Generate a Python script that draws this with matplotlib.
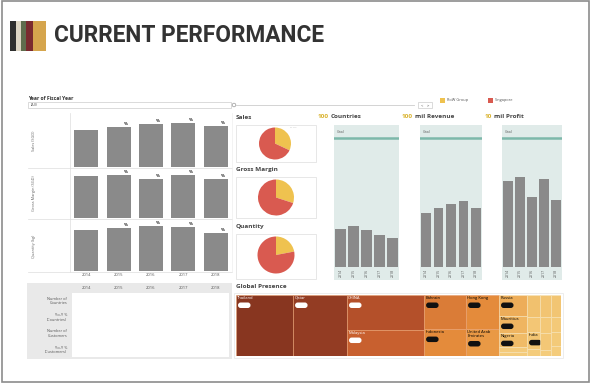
import matplotlib
matplotlib.use('Agg')
import matplotlib.pyplot as plt
from matplotlib.patches import Rectangle, FancyBboxPatch, Circle
import matplotlib.colors as mcolors
import numpy as np

W, H = 600, 386

# ---------------- data ----------------
years = ['2014', '2015', '2016', '2017', '2018']
sales = [37, 40, 43, 44, 41]
gross_margin = [42, 43, 39, 43, 39]
quantity = [41, 43, 45, 44, 38]
row_titles = ['Sales (SGD)', 'Gross Margin (SGD)', 'Quantity (kg)']
change_marks = ['', '%', '%', '%', '%']

pie_groups = ['RoW Group', 'Singapore']
pie_sales = [32, 68]
pie_margin = [30, 70]
pie_quantity = [22, 78]
pie_titles = ['Sales', 'Gross Margin', 'Quantity']

countries = [29.7, 31.8, 28.4, 24.8, 22.5]
revenue = [42.1, 45.7, 48.8, 50.9, 46.0]
profit = [6.7, 7.0, 5.45, 6.85, 5.2]
kpi_goals = [100, 100, 10]
kpi_numbers = ['100', '100', '10']
kpi_titles = ['Countries', 'mil Revenue', 'mil Profit']

table_rows = ['Number of\nCountries', 'Y-o-Y %\n(Countries)',
              'Number of\nCustomers', 'Y-o-Y %\n(Customers)']

# treemap: columns of (country, customers)
tm_columns = [
    [('Thailand', 348)],
    [('Qatar', 329)],
    [('CHINA', 270), ('Malaysia', 200)],
    [('Bahrain', 143), ('Indonesia', 113)],
    [('Hong Kong', 112), ('United Arab\nEmirates', 89)],
    [('Russia', 59), ('Mauritius', 48), ('Nigeria', 39), ('', 13), ('', 12)],
    [('', 29), ('', 20), ('India', 22), ('', 9)],
    [('', 24), ('', 17), ('', 18), ('', 7)],
    [('', 22), ('', 15), ('', 14), ('', 10)],
]

# ---------------- styling ----------------
GRAY_BAR = '#8a8a8a'
YEL = '#efc24f'
RED = '#d95a50'
TEAL_BG = '#e0ebe9'
GOAL = '#7db8aa'
TXT = '#444444'
plt.rcParams['font.family'] = ['Open Sans', 'DejaVu Sans']

fig = plt.figure(figsize=(6, 3.86), dpi=100)
fig.patch.set_facecolor('white')
renderer = fig.canvas.get_renderer()


def px_axes(x0, y0, x1, y1, **kw):
    return fig.add_axes([x0 / W, 1 - y1 / H, (x1 - x0) / W, (y1 - y0) / H], **kw)


bg = px_axes(0, 0, W, H)
bg.set_xlim(0, W)
bg.set_ylim(H, 0)
bg.axis('off')

# slide frame
bg.add_patch(Rectangle((2, 1), 587, 381, fill=False, ec='#8c8c8c', lw=1.2))

# title icon stripes
for x0, x1, c in [(10, 16, '#2e2e2e'), (16, 21, '#ddd5c4'), (21, 26, '#5f6d4d'),
                  (26, 33, '#7a2b2f'), (33, 46, '#d5a54d')]:
    bg.add_patch(Rectangle((x0, 21), x1 - x0, 30, color=c, lw=0))
bg.text(54, 36, 'CURRENT PERFORMANCE', fontsize=16.3, fontweight='bold',
        family=['Roboto', 'DejaVu Sans'], color='#333333', va='center', ha='left')

# filter controls
bg.text(28, 99, 'Year of Fiscal Year', fontsize=3.6, fontweight='bold', color='#333', va='center')
bg.add_patch(Rectangle((28, 102), 203, 6, fill=False, ec='#cccccc', lw=0.5))
bg.text(31, 105, '(All)', fontsize=2.8, color='#555', va='center')
bg.plot([236, 414], [105, 105], color='#cccccc', lw=0.6)
bg.add_patch(Circle((234, 105), 1.8, fill=True, fc='white', ec='#999', lw=0.5))
bg.add_patch(Rectangle((418, 102), 14, 6, fill=False, ec='#cccccc', lw=0.5))
bg.text(422, 105, '<', fontsize=3, color='#555', va='center', ha='center')
bg.text(428, 105, '>', fontsize=3, color='#333', va='center', ha='center')

# legend
for x, c, lab in [(440, YEL, pie_groups[0]), (488, RED, pie_groups[1])]:
    bg.add_patch(Rectangle((x, 97.5), 5, 5, color=c, lw=0))
    bg.text(x + 7, 100, lab, fontsize=2.8, color='#555', va='center')

# ---------------- left bar panel ----------------
bar_rows = [(115, 167, sales, 52), (168, 218, gross_margin, 50), (221, 271, quantity, 50)]
for (y0, y1, vals, top), title in zip(bar_rows, row_titles):
    ax = px_axes(70, y0, 232, y1)
    x = np.arange(len(years))
    ax.bar(x, vals, width=0.74, color=GRAY_BAR)
    for xi, v, m in zip(x, vals, change_marks):
        if m:
            ax.text(xi + 0.22, v + top * 0.02, m, fontsize=3.2, fontweight='bold',
                    color='#222', ha='center', va='bottom')
    ax.set_xlim(-0.5, len(years) - 0.5)
    ax.set_ylim(0, top)
    ax.axis('off')
    bg.text(34, (y0 + y1) / 2, title, fontsize=2.8, rotation=90, color='#666',
            ha='center', va='center')
    bg.plot([28, 232], [y1 + 0.5, y1 + 0.5], color='#dddddd', lw=0.5)
bg.plot([70, 70], [113, 272], color='#dddddd', lw=0.5)
bg.plot([232, 232], [113, 272], color='#eeeeee', lw=0.5)
slot = (232 - 70) / len(years)
for i, yr in enumerate(years):
    bg.text(70 + slot * (i + 0.5), 275.5, yr, fontsize=3, color='#555', ha='center', va='center')

# ---------------- table ----------------
bg.add_patch(Rectangle((27, 283), 205, 76, color='#e9e9e9', lw=0))
bg.add_patch(Rectangle((72, 293), 157, 64, color='white', lw=0))
for i, yr in enumerate(years):
    bg.text(70 + slot * (i + 0.5), 288, yr, fontsize=3, color='#555', ha='center', va='center')
for i, lab in enumerate(table_rows):
    bg.text(67, 301 + i * 16.3, lab, fontsize=2.8, color='#555', ha='right', va='center',
            linespacing=1.2)

# ---------------- pies ----------------
pie_boxes = [(125, 162, 275, 143.5, 16, pie_sales),
             (177, 218, 276, 197.5, 18, pie_margin),
             (234, 279, 276, 255, 18.5, pie_quantity)]
for (by0, by1, cx, cy, r, vals), title in zip(pie_boxes, pie_titles):
    bg.add_patch(Rectangle((236, by0), 80, by1 - by0, fill=False, ec='#dddddd', lw=0.5))
    bg.text(236, by0 - 7.5, title, fontsize=4.6, fontweight='bold', color=TXT, va='center')
    pa = px_axes(cx - r, cy - r, cx + r, cy + r)
    pa.pie(vals, colors=[YEL, RED], startangle=90, counterclock=False,
           wedgeprops=dict(lw=0))
    pa.set_xlim(-1, 1)
    pa.set_ylim(-1, 1)
bg.text(290, 127.5, '-- ---', fontsize=2.5, color='#999', va='center')

# ---------------- KPI panels ----------------
kpi_panels = [(334, 399, countries), (420, 482, revenue), (502, 562, profit)]
kpi_title_x = [318, 402, 485]
for (x0, x1, vals), goal, num, title, tx in zip(kpi_panels, kpi_goals, kpi_numbers,
                                                kpi_titles, kpi_title_x):
    bg.add_patch(Rectangle((x0, 125), x1 - x0, 155, color=TEAL_BG, lw=0))
    ax = px_axes(x0, 125, x1, 267)
    ax.patch.set_alpha(0)
    x = np.arange(len(years))
    ax.bar(x, vals, width=0.77, color=GRAY_BAR)
    ax.axhline(goal, color=GOAL, lw=1.8)
    ax.text(-0.3, goal * 1.03, 'Goal', fontsize=2.5, color='#555', va='bottom')
    ax.set_xlim(-0.5, len(years) - 0.5)
    ax.set_ylim(0, goal * 142 / 129)
    ax.set_xticks(x)
    ax.set_xticklabels(years, rotation=90, fontsize=2.5, color='#555')
    ax.tick_params(length=0, pad=1.5)
    ax.set_yticks([])
    for s in ax.spines.values():
        s.set_visible(False)
    t = bg.text(tx, 117, num, fontsize=4.6, fontweight='bold', color='#d9b22c', va='center')
    bb = t.get_window_extent(renderer=renderer)
    end_x = bb.x1 * W / (fig.get_figwidth() * fig.dpi)
    bg.text(end_x + 1.8, 117, title, fontsize=4.6, fontweight='bold', color=TXT, va='center')

# ---------------- treemap ----------------
bg.text(236, 287, 'Global Presence', fontsize=4.6, fontweight='bold', color=TXT, va='center')
bg.add_patch(Rectangle((234, 293), 329, 65, fill=False, ec='#e6e6e6', lw=0.5))
tm = px_axes(236, 295, 561, 356)
tm.set_xlim(0, 325)
tm.set_ylim(61, 0)
tm.axis('off')

cval = [10, 40, 100, 200, 270, 350]
cnodes = ['#f4cc7c', '#f0ba66', '#e8913d', '#c8602f', '#b4502a', '#873520']
crgb = np.array([mcolors.to_rgb(c) for c in cnodes])


def tm_color(v):
    return tuple(np.interp(v, cval, crgb[:, k]) for k in range(3))


total = sum(v for col in tm_columns for _, v in col)
xpos = 0.0
for col in tm_columns:
    csum = sum(v for _, v in col)
    cw = csum / total * 325
    ypos = 0.0
    for name, v in col:
        ch = v / csum * 61
        tm.add_patch(Rectangle((xpos, ypos), cw, ch, fc=tm_color(v),
                               ec='#f6e3b8' if v < 60 else '#e8a070', lw=0.4))
        if name:
            dark = v >= 200
            tc = 'white' if dark else 'black'
            tm.text(xpos + 1.2, ypos + 0.8, name, fontsize=3.0, color=tc, va='top', ha='left',
                    linespacing=1.1)
            nl = name.count('\n')
            py = ypos + 7.5 + nl * 4.5
            tm.add_patch(FancyBboxPatch((xpos + 2.0, py), 12.5, 5.5,
                                        boxstyle='round,pad=0,rounding_size=2.7',
                                        fc='white' if dark else '#111111', ec='none'))
        ypos += ch
    xpos += cw

fig.savefig('out.png', dpi=100, facecolor='white')
